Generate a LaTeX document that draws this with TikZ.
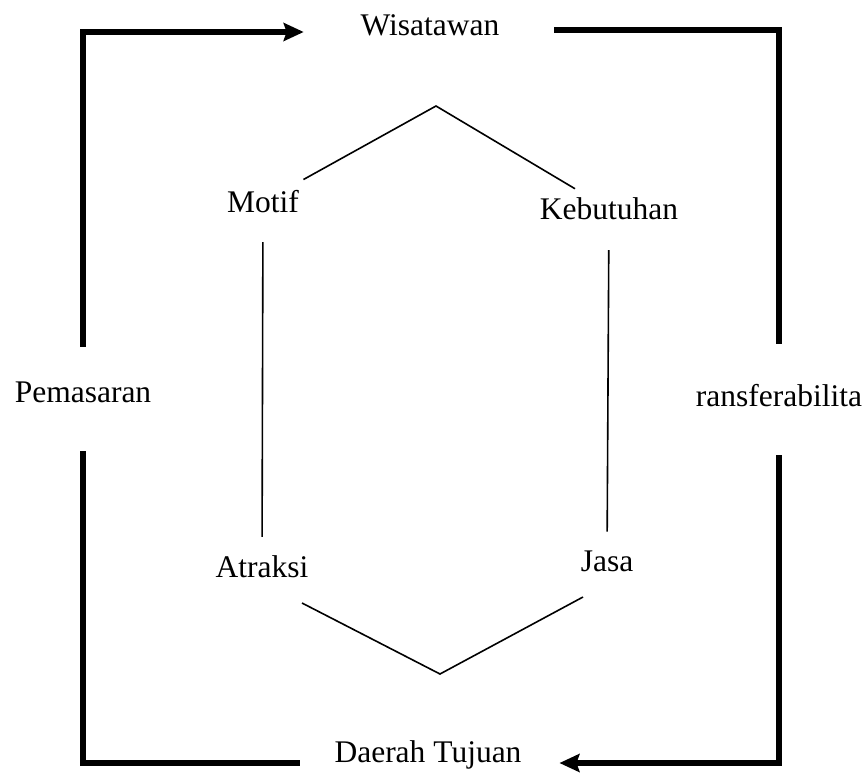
\documentclass[tikz,border=0pt]{standalone}
\usepackage{fontspec}
\setmainfont{Liberation Serif}
\usetikzlibrary{arrows.meta}
\begin{document}
\begin{tikzpicture}[x=1pt,y=-1pt,
  lbl/.style={inner sep=2pt,outer sep=0pt,font=\fontsize{31.5}{37.8}\selectfont},
  frame/.style={draw=black,line width=5.5pt},
  link/.style={draw=black,line width=1.6pt},
  tip/.style={-{Stealth[length=20pt,width=18pt,inset=3pt]}}]
\path[use as bounding box] (0,0) rectangle (866,778);
\path[fill=white,draw=none] (0,0) rectangle (866,778);
% outer labels
\node[lbl] (wis) at (430,25) {Wisatawan};
\node[lbl] (dt) at (428,755) {Daerah Tujuan};
\node[lbl] (pem) at (83,392) {Pemasaran};
\node[lbl] (trf) at (779,396) {ransferabilita};
% inner labels
\node[lbl] (mot) at (263,202) {Motif};
\node[lbl] (keb) at (609,209) {Kebutuhan};
\node[lbl] (atr) at (262,567) {Atraksi};
\node[lbl] (jas) at (607,561) {Jasa};
\coordinate (top) at (436,106);
\coordinate (bot) at (440,674);
\coordinate (lowL) at (302,603);
\coordinate (lowR) at (583,597);
% outer frame
\draw[frame,tip,shorten <=33pt,shorten >=55pt] (pem) |- ([yshift=-7pt]wis.west);
\draw[frame,shorten <=53pt,shorten >=39pt] ([yshift=-5pt]wis.east) -| (trf);
\draw[frame,tip,shorten <=46pt,shorten >=36pt] (trf) |- ([yshift=-8pt]dt.east);
\draw[frame,shorten <=33pt,shorten >=47pt] ([yshift=-8pt]dt.west) -| (pem);
% inner hexagon
\draw[link,shorten <=19pt,shorten >=14pt] (mot) -- (top) -- (keb);
\draw[link,shorten <=27pt,shorten >=17pt] (mot) -- (atr);
\draw[link,shorten <=28pt,shorten >=17pt] (keb) -- (jas);
\draw[link] (lowL) -- (bot) -- (lowR);
\end{tikzpicture}
\end{document}
